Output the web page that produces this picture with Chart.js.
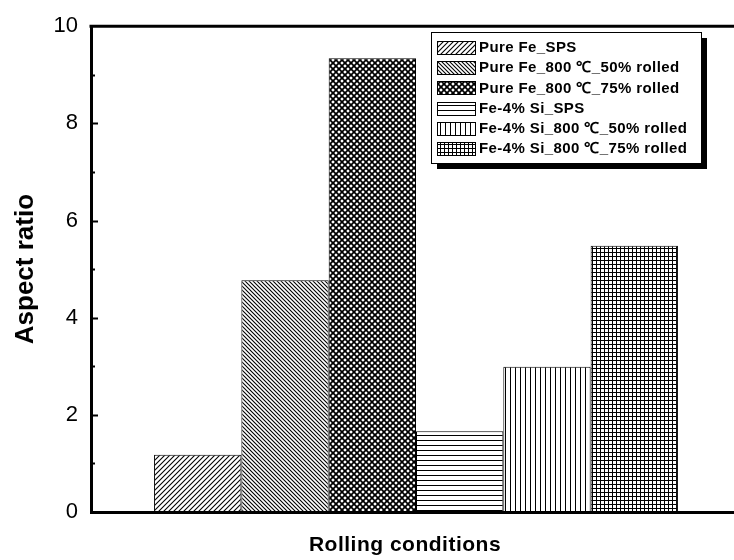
<!DOCTYPE html>
<html>
<head>
<meta charset="utf-8">
<script src="https://cdn.jsdelivr.net/npm/chart.js@4.4.1/dist/chart.umd.min.js"></script>
<style>
  html, body { margin: 0; padding: 0; background: #fff; }
</style>
</head>
<body>
<canvas id="ratio-plot" width="734" height="560"></canvas>
<script>
// values
const seriesNames = [
  "Pure Fe_SPS",
  "Pure Fe_800 \u2103_50% rolled",
  "Pure Fe_800 \u2103_75% rolled",
  "Fe-4% Si_SPS",
  "Fe-4% Si_800 \u2103_50% rolled",
  "Fe-4% Si_800 \u2103_75% rolled"
];
const aspectRatios = [1.18, 4.77, 9.34, 1.66, 2.99, 5.48];
const hatchKinds = ["slash", "backslash", "cross", "horizontal", "vertical", "grid"];
const yTickValues = [0, 2, 4, 6, 8, 10];
const categories = [""];
const xTitle = "Rolling conditions";

Chart.defaults.font.family = "'Liberation Sans', Arial, sans-serif";
Chart.defaults.color = "#000";

// hatch fills, black on white
function makeHatch(kind) {
    let size = { slash: 5, backslash: 4, cross: 6, horizontal: 5, vertical: 5, grid: 4 }[kind];
    let tile = document.createElement("canvas");
    tile.width = size;
    tile.height = size;
    let c = tile.getContext("2d");
    c.fillStyle = "#fff";
    c.fillRect(0, 0, size, size);
    c.strokeStyle = "#000";
    c.fillStyle = "#000";
    c.lineWidth = 1.1;
    function slash() {
        c.beginPath();
        c.moveTo(0, size); c.lineTo(size, 0);
        c.moveTo(-1, 1); c.lineTo(1, -1);
        c.moveTo(size - 1, size + 1); c.lineTo(size + 1, size - 1);
        c.stroke();
    }
    function backslash() {
        c.beginPath();
        c.moveTo(0, 0); c.lineTo(size, size);
        c.moveTo(-1, size - 1); c.lineTo(1, size + 1);
        c.moveTo(size - 1, -1); c.lineTo(size + 1, 1);
        c.stroke();
    }
    if (kind == "slash") slash();
    if (kind == "backslash") backslash();
    if (kind == "cross") { c.lineWidth = 1.7; slash(); backslash(); }
    if (kind == "horizontal") c.fillRect(0, 0, size, 1);
    if (kind == "vertical") c.fillRect(0, 0, 1, size);
    if (kind == "grid") { c.fillRect(0, 0, size, 1); c.fillRect(0, 0, 1, size); }
    return document.createElement("canvas").getContext("2d").createPattern(tile, "repeat");
}

const hatches = hatchKinds.map(k => makeHatch(k));

// inward y ticks, top frame line, x title and the boxed legend
const frameAndLegend = {
    id: "frameAndLegend",
    afterLayout(chart) {
        // the plot runs a little past the right edge of the picture
        const x = chart.scales.x;
        x.right = chart.width + 7;
        x.width = x.right - x.left;
        x.configure();
        chart.chartArea.right = x.right;
        chart.chartArea.width = x.width;
    },
    afterDraw(chart) {
        const ctx = chart.ctx;
        const area = chart.chartArea;
        const y = chart.scales.y;
        ctx.save();
        ctx.strokeStyle = "#000";

        ctx.lineWidth = 3;
        ctx.beginPath();
        ctx.moveTo(area.left - 1.5, area.top);
        ctx.lineTo(chart.width, area.top);
        ctx.stroke();

        ctx.lineWidth = 2;
        for (let v = 1; v < 10; v++) {
            let py = Math.round(y.getPixelForValue(v)) + 0.5;
            ctx.beginPath();
            ctx.moveTo(area.left, py);
            ctx.lineTo(area.left + (v % 2 == 0 ? 7 : 4), py);
            ctx.stroke();
        }

        ctx.fillStyle = "#000";
        ctx.font = "bold 21px 'Liberation Sans', Arial, sans-serif";
        ctx.letterSpacing = "0.5px";
        ctx.textAlign = "center";
        ctx.textBaseline = "middle";
        ctx.fillText(xTitle, 405, 545);

        // legend
        let left = 431, top = 32, w = 270, h = 131;
        ctx.fillStyle = "#000";
        ctx.fillRect(left + 6, top + 6, w, h);
        ctx.fillStyle = "#fff";
        ctx.fillRect(left, top, w, h);
        ctx.lineWidth = 1;
        ctx.strokeRect(left + 0.5, top + 0.5, w, h);

        ctx.font = "bold 15px 'Liberation Sans', Arial, sans-serif";
        ctx.letterSpacing = "0.4px";
        ctx.textAlign = "left";
        chart.data.datasets.forEach((ds, i) => {
            let cy = top + 15 + i * 20.2;
            ctx.fillStyle = ds.backgroundColor;
            ctx.fillRect(left + 6, Math.round(cy - 6), 38, 13);
            ctx.strokeRect(left + 6.5, Math.round(cy - 6) + 0.5, 38, 13);
            ctx.fillStyle = "#000";
            ctx.fillText(ds.label, left + 48, cy + 1);
        });
        ctx.restore();
    }
};

const ratioPlot = new Chart("ratio-plot", {
    type: "bar",
    data: {
        labels: categories,
        datasets: seriesNames.map((name, i) => ({
            label: name,
            data: [aspectRatios[i]],
            backgroundColor: hatches[i],
            borderColor: "#000",
            borderWidth: 1,
            borderSkipped: false,
            barPercentage: 1,
            categoryPercentage: 0.806
        }))
    },
    options: {
        responsive: false,
        devicePixelRatio: 1,
        animation: false,
        layout: {
            padding: { top: 19, right: 0, left: 0, bottom: 0 }
        },
        plugins: {
            legend: { display: false },
            tooltip: { enabled: false }
        },
        scales: {
            x: {
                grid: { display: false, drawTicks: false },
                border: { display: true, width: 3, color: "#000" },
                ticks: { display: false },
                afterFit: s => { s.height = 48; }
            },
            y: {
                min: 0,
                max: 10,
                afterBuildTicks: s => { s.ticks = yTickValues.map(v => ({ value: v })); },
                ticks: {
                    font: { size: 22 },
                    color: "#000",
                    padding: 13
                },
                grid: { display: false, drawTicks: false },
                border: { display: true, width: 3, color: "#000" },
                title: {
                    display: true,
                    text: "Aspect ratio",
                    font: { size: 26, weight: "bold" },
                    color: "#000",
                    padding: { top: 10, bottom: 0 }
                },
                afterFit: s => { s.width = 91; }
            }
        }
    },
    plugins: [frameAndLegend]
});
</script>
</body>
</html>
